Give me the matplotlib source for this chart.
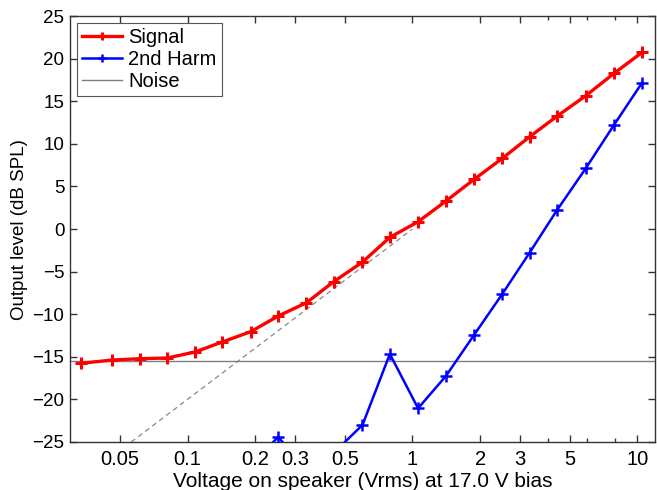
import matplotlib
matplotlib.use("Agg")
import matplotlib.pyplot as plt
from matplotlib.ticker import FixedLocator, NullFormatter

plt.rcParams['font.family'] = ['Liberation Sans', 'DejaVu Sans']

# Data
voltage = [0.0336, 0.0462, 0.0612, 0.0811, 0.1077, 0.1426, 0.191, 0.2534, 0.338,
           0.446, 0.60, 0.794, 1.06, 1.41, 1.88, 2.51, 3.32, 4.40, 5.90, 7.87, 10.5]
signal = [-15.76, -15.38, -15.22, -15.14, -14.44, -13.26, -12.05, -10.2, -8.65,
          -6.19, -3.87, -0.97, 0.86, 3.29, 5.83, 8.3, 10.83, 13.26, 15.65, 18.27, 20.74]

harm_voltage = [0.191, 0.2534, 0.338, 0.446, 0.60, 0.794, 1.06, 1.41, 1.88, 2.51,
                3.32, 4.40, 5.90, 7.87, 10.5]
harm2 = [-27.7, -24.4, -28.5, -26.3, -23.0, -14.67, -21.05, -17.25, -12.44, -7.63,
         -2.78, 2.23, 7.12, 12.2, 17.17]

noise_level = -15.45
dash_x = [0.0562, 1.0]
dash_y = [-25.0, 0.0]

xticks = [0.05, 0.1, 0.2, 0.3, 0.5, 1, 2, 3, 5, 10]
xticklabels = ['0.05', '0.1', '0.2', '0.3', '0.5', '1', '2', '3', '5', '10']
xminor = [4, 6, 8]
yticks = [-25, -20, -15, -10, -5, 0, 5, 10, 15, 20, 25]

fig = plt.figure(figsize=(6.57, 4.9), dpi=100)
ax = fig.add_axes([0.1065, 0.098, 0.8905, 0.869])

ax.plot(dash_x, dash_y, color='#888888', lw=0.9, ls=(0, (4, 3)), zorder=1)
ax.plot(voltage, signal, color='red', lw=2.4, marker='+', ms=8, mew=2.2,
        label='Signal', zorder=3)
ax.plot(harm_voltage, harm2, color='blue', lw=1.8, marker='+', ms=8, mew=1.8,
        label='2nd Harm', zorder=3)
ax.axhline(noise_level, color='#7f7f7f', lw=1.0, label='Noise', zorder=2)

ax.set_xscale('log')
ax.set_xlim(0.03, 12)
ax.set_ylim(-25, 25)
ax.xaxis.set_major_locator(FixedLocator(xticks))
ax.set_xticklabels(xticklabels)
ax.xaxis.set_minor_locator(FixedLocator(xminor))
ax.xaxis.set_minor_formatter(NullFormatter())
ax.set_yticks(yticks)

ax.tick_params(which='both', direction='in', top=True, right=True,
               color='#333333', width=1.0)
ax.tick_params(axis='x', labelsize=14.5, pad=6)
ax.tick_params(axis='y', labelsize=13.5, pad=4)
ax.tick_params(which='major', length=5)
ax.tick_params(which='minor', length=3)
for s in ax.spines.values():
    s.set_color('#333333')
    s.set_linewidth(1.0)

ax.set_xlabel('Voltage on speaker (Vrms) at 17.0 V bias', fontsize=15, labelpad=2)
ax.set_ylabel('Output level (dB SPL)', fontsize=13.5, labelpad=3)

leg = ax.legend(loc='upper left', fontsize=14.5, fancybox=False, framealpha=1,
                edgecolor='#555555', handlelength=2.0, handletextpad=0.3,
                borderpad=0.25, labelspacing=0.15, borderaxespad=0.35,
                markerscale=0.7)
leg.get_frame().set_linewidth(0.8)

fig.savefig('out.png', dpi=100)
